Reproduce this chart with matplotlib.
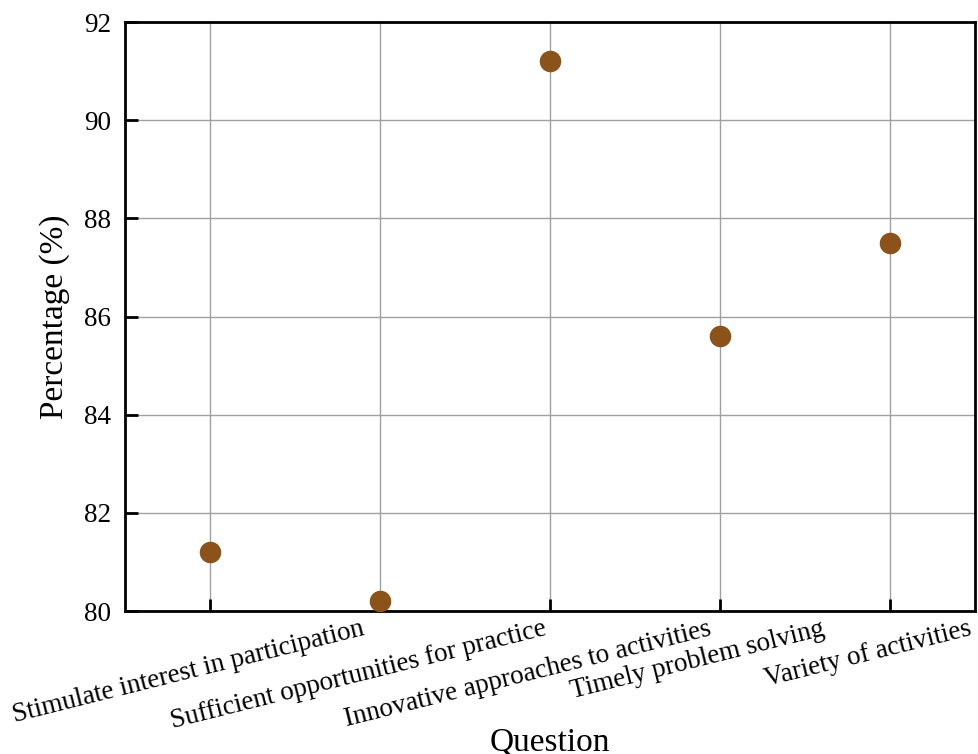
import matplotlib.pyplot as plt
import matplotlib.transforms as mtransforms

questions = [
    "Stimulate interest in participation",
    "Sufficient opportunities for practice",
    "Innovative approaches to activities",
    "Timely problem solving",
    "Variety of activities",
]
percentages = [81.2, 80.2, 91.2, 85.6, 87.5]

plt.rcParams["font.family"] = ["Liberation Serif", "DejaVu Serif"]

fig = plt.figure(figsize=(9.79, 7.54), dpi=100)
ax = fig.add_axes([125 / 979, 1 - 611 / 754, 850 / 979, 589 / 754])

x = list(range(len(questions)))
ax.scatter(x, percentages, s=210, color="#8b5219", zorder=3)

ax.set_xlim(-0.5, len(questions) - 0.5)
ax.set_ylim(80, 92)
ax.set_yticks(range(80, 93, 2))
ax.set_xticks(x)
ax.set_xticklabels(questions, rotation=14, ha="center")

ax.grid(True, color="#a0a0a0", linewidth=1)
ax.set_axisbelow(True)
for sp in ax.spines.values():
    sp.set_linewidth(2)
ax.tick_params(direction="in", length=9, width=2, labelsize=19.5)
ax.tick_params(axis="y", pad=10)
ax.tick_params(axis="x", pad=4)

# nudge the slanted category labels a bit to the left
shift = mtransforms.ScaledTranslation(-22 / 100, 0, fig.dpi_scale_trans)
for lbl in ax.xaxis.get_majorticklabels():
    lbl.set_transform(lbl.get_transform() + shift)

ax.set_xlabel("Question", fontsize=24, labelpad=-5)
ax.set_ylabel("Percentage (%)", fontsize=24, labelpad=10)

fig.savefig("out.png", dpi=100)
